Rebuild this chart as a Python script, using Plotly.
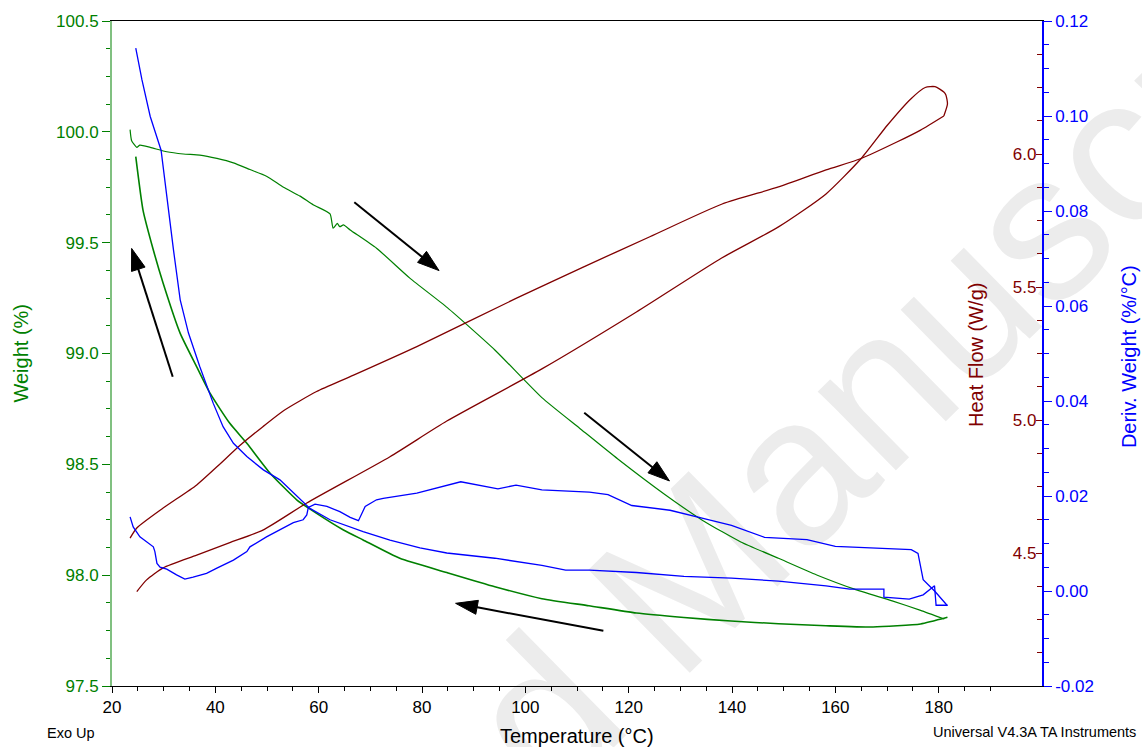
import plotly.graph_objects as go

# ---- Weight (%) : heating run ----
heat_temp_w = [23.5, 23.8, 24.8, 25.4, 27.4, 30.6, 33.8, 37.0, 40.3, 43.5, 46.7, 49.9,
               53.2, 56.4, 59.0, 62.2, 62.8, 63.6, 64.1, 64.8, 66.1, 71.2, 77.7, 84.9,
               94.1, 103.2, 110.5, 117.9, 127.0, 134.4, 141.7, 149.0, 156.4, 163.7,
               171.0, 176.5, 181.1]
heat_weight = [100.01, 99.96, 99.93, 99.94, 99.93, 99.91, 99.90, 99.895, 99.88, 99.86,
               99.83, 99.80, 99.75, 99.71, 99.67, 99.63, 99.565, 99.587, 99.572, 99.58,
               99.557, 99.475, 99.339, 99.207, 99.016, 98.801, 98.663, 98.524, 98.364,
               98.246, 98.15, 98.076, 98.001, 97.937, 97.884, 97.841, 97.802]

# ---- Weight (%) : cooling run ----
cool_temp_w = [181.7, 176.5, 167.3, 158.2, 149.0, 139.8, 130.7, 121.5, 112.3, 103.2,
               94.1, 84.8, 75.7, 68.6, 64.8, 59.6, 55.8, 50.6, 46.1, 42.8, 39.0, 36.4,
               33.2, 29.9, 28.0, 26.0, 24.6]
cool_weight = [97.81, 97.78, 97.766, 97.772, 97.781, 97.793, 97.809, 97.829, 97.862,
               97.894, 97.948, 98.012, 98.076, 98.159, 98.204, 98.279, 98.339, 98.46,
               98.595, 98.685, 98.82, 98.94, 99.091, 99.317, 99.467, 99.647, 99.888]

# ---- Heat flow (W/g) : heating run ----
heat_temp_hf = [23.5, 24.8, 29.9, 36.4, 40.3, 44.8, 49.2, 53.2, 59.6, 66.1, 79.0, 98.3,
                111.2, 124.1, 138.1, 149.0, 158.2, 165.0, 171.9, 176.5, 181.0]
heat_flow_up = [4.556, 4.594, 4.669, 4.756, 4.824, 4.905, 4.975, 5.035, 5.107, 5.163,
                5.276, 5.458, 5.575, 5.689, 5.812, 5.876, 5.940, 5.983, 6.045, 6.090,
                6.143]

# ---- Heat flow (W/g) : cooling run ----
cool_temp_hf = [181.0, 181.7, 181.4, 181.0, 179.3, 177.4, 174.6, 170.1, 165.0, 158.2,
                149.0, 138.0, 121.5, 103.2, 84.8, 73.8, 57.7, 49.2, 42.8, 36.4, 29.9,
                26.7, 24.8]
heat_flow_down = [6.143, 6.188, 6.222, 6.233, 6.253, 6.25, 6.207, 6.109, 5.983, 5.850,
                  5.726, 5.609, 5.406, 5.192, 4.996, 4.862, 4.688, 4.586, 4.539, 4.492,
                  4.444, 4.399, 4.355]

# ---- Deriv. weight (%/°C) : heating run ----
heat_temp_d = [23.5, 24.1, 25.4, 26.7, 28.0, 28.3, 28.7, 29.3, 30.6, 32.5, 34.1, 35.7,
               38.3, 40.3, 43.5, 46.1, 46.7, 49.9, 53.2, 55.1, 57.0, 57.7, 58.0, 59.3,
               61.6, 64.1, 66.1, 67.7, 69.0, 71.2, 72.5, 79.0, 87.5, 94.7, 98.2, 103.2,
               112.4, 116.0, 120.6, 128.0, 134.4, 139.9, 146.3, 154.5, 160.0, 167.4,
               174.7, 176.0, 177.0, 179.3, 181.7]
heat_deriv = [0.0156, 0.0135, 0.0114, 0.0104, 0.0093, 0.0083, 0.0058, 0.0050, 0.0046,
              0.0034, 0.0025, 0.0029, 0.0037, 0.0048, 0.0065, 0.0083, 0.0093, 0.0114,
              0.0134, 0.0144, 0.0150, 0.0160, 0.0176, 0.0183, 0.0178, 0.0167, 0.0155,
              0.0148, 0.0178, 0.0192, 0.0195, 0.0206, 0.0230, 0.0215, 0.0223, 0.0213,
              0.0208, 0.0203, 0.0180, 0.0170, 0.0153, 0.0138, 0.0113, 0.0108, 0.0094,
              0.0091, 0.0087, 0.0079, 0.0024, -0.0001, -0.0031]

# ---- Deriv. weight (%/°C) : cooling run ----
cool_temp_d = [181.7, 179.5, 179.2, 177.0, 174.3, 169.4, 169.4, 162.8, 158.2, 149.0,
               139.9, 130.7, 121.5, 112.4, 107.8, 103.2, 94.1, 84.8, 79.6, 73.8, 68.6,
               62.2, 58.3, 55.8, 52.5, 49.3, 46.1, 43.5, 41.5, 39.6, 37.0, 34.8, 33.2,
               31.9, 30.6, 29.5, 27.4, 25.8, 24.6]
cool_deriv = [-0.0030, -0.0030, 0.0011, -0.0008, -0.0017, -0.0013, 0.0004, 0.0004,
              0.0011, 0.0021, 0.0027, 0.0031, 0.0039, 0.0044, 0.0044, 0.0054, 0.0069,
              0.0080, 0.0091, 0.0107, 0.0125, 0.0150, 0.0174, 0.0199, 0.0234, 0.0255,
              0.0283, 0.0311, 0.0346, 0.0395, 0.0472, 0.0543, 0.0613, 0.0718, 0.0837,
              0.0928, 0.0999, 0.1076, 0.1143]

# Axis tick labels
weight_ticks = [97.5, 98.0, 98.5, 99.0, 99.5, 100.0, 100.5]
flow_ticks = [4.5, 5.0, 5.5, 6.0]
deriv_ticks = [-0.02, 0.00, 0.02, 0.04, 0.06, 0.08, 0.10, 0.12]
deriv_labels = ["-0.02", "0.00", "0.02", "0.04", "0.06", "0.08", "0.10", "0.12"]

# Direction arrows (temperature, weight): tail -> head
arrow_paths = [
    ((31.75, 98.895), (23.8, 99.474)),
    ((66.9, 99.682), (83.3, 99.374)),
    ((111.4, 98.733), (127.9, 98.425)),
    ((115.1, 97.749), (86.5, 97.873)),
]

GREEN = "#008000"
RED = "#800000"
BLUE = "#0000ff"
FONT = "Liberation Sans, Arial, sans-serif"

fig = go.Figure()

smooth = dict(shape="spline", smoothing=0.5)
fig.add_trace(go.Scatter(x=heat_temp_w, y=heat_weight, mode="lines",
                         line=dict(color=GREEN, width=1.2, **smooth), yaxis="y"))
fig.add_trace(go.Scatter(x=cool_temp_w, y=cool_weight, mode="lines",
                         line=dict(color=GREEN, width=1.6, **smooth), yaxis="y"))
fig.add_trace(go.Scatter(x=heat_temp_hf, y=heat_flow_up, mode="lines",
                         line=dict(color=RED, width=1.3, shape="spline", smoothing=0.6),
                         yaxis="y2"))
fig.add_trace(go.Scatter(x=cool_temp_hf, y=heat_flow_down, mode="lines",
                         line=dict(color=RED, width=1.3, shape="spline", smoothing=0.6),
                         yaxis="y2"))
fig.add_trace(go.Scatter(x=heat_temp_d, y=heat_deriv, mode="lines",
                         line=dict(color=BLUE, width=1.3), yaxis="y3"))
fig.add_trace(go.Scatter(x=cool_temp_d, y=cool_deriv, mode="lines",
                         line=dict(color=BLUE, width=1.3), yaxis="y3"))

for (x0, y0), (x1, y1) in arrow_paths:
    fig.add_trace(go.Scatter(
        x=[x0, x1], y=[y0, y1], mode="lines+markers", yaxis="y",
        line=dict(color="black", width=2),
        marker=dict(symbol="arrow", size=[0, 23], angleref="previous",
                    color="black", opacity=1, line=dict(width=1, color="black")),
        hoverinfo="skip"))

tickfont = dict(family=FONT, size=17)

fig.update_layout(
    width=1142, height=747,
    margin=dict(l=112, r=100, t=21, b=61),
    paper_bgcolor="white", plot_bgcolor="white",
    showlegend=False,
    font=dict(family=FONT),
    xaxis=dict(
        range=[20, 200], dtick=20, tick0=0, showgrid=False, zeroline=False,
        showline=True, linecolor="black", linewidth=1, mirror=True,
        ticks="outside", ticklen=6, tickcolor="black",
        tickfont=dict(tickfont, color="black"),
        minor=dict(dtick=5, ticks="outside", ticklen=4, tickcolor="black"),
    ),
    yaxis=dict(
        range=[97.5, 100.5], tickvals=weight_ticks, tickformat=".1f",
        showgrid=False, zeroline=False,
        showline=True, linecolor="#80c080", linewidth=2,
        ticks="outside", ticklen=8, tickcolor=GREEN,
        tickfont=dict(tickfont, color=GREEN),
        minor=dict(tickmode="linear", tick0=97.5, dtick=0.125, ticks="outside",
                   ticklen=4, tickcolor=GREEN),
    ),
    yaxis2=dict(
        range=[4.0, 6.5], overlaying="y", side="right", anchor="x",
        tickvals=flow_ticks, tickformat=".1f",
        showgrid=False, zeroline=False, showline=False,
        ticks="inside", ticklen=6, tickcolor=RED, ticklabelposition="inside",
        tickfont=dict(tickfont, color=RED),
        minor=dict(tickmode="linear", tick0=4.0, dtick=0.125, ticks="inside",
                   ticklen=5, tickcolor=RED),
    ),
    yaxis3=dict(
        range=[-0.02, 0.12], overlaying="y", side="right", anchor="x",
        tickvals=deriv_ticks, ticktext=deriv_labels,
        showgrid=False, zeroline=False,
        showline=True, linecolor=BLUE, linewidth=1.5,
        ticks="outside", ticklen=8, tickcolor=BLUE,
        tickfont=dict(tickfont, color=BLUE),
        minor=dict(tickmode="linear", tick0=-0.02, dtick=0.005, ticks="outside",
                   ticklen=5, tickcolor=BLUE),
    ),
)

# Background watermark, drawn beneath the traces
fig.add_shape(
    type="rect", xref="paper", yref="paper",
    x0=0.52, x1=0.628, y0=0.10, y1=0.20, layer="below",
    line=dict(width=0), fillcolor="rgba(0,0,0,0)",
    label=dict(text="Accepted Manuscript", textangle=-44.5,
               textposition="middle center",
               font=dict(family=FONT, size=210, color="#ececec")),
)

title_font = dict(family=FONT, size=20)
fig.add_annotation(text="Temperature (°C)", xref="paper", yref="paper",
                   x=0.5, y=-0.0752, showarrow=False,
                   font=dict(title_font, color="black"),
                   xanchor="center", yanchor="middle")
fig.add_annotation(text="Weight (%)", xref="paper", yref="paper",
                   x=-0.0989, y=0.50, showarrow=False, textangle=-90,
                   font=dict(title_font, color=GREEN),
                   xanchor="center", yanchor="middle")
fig.add_annotation(text="Heat Flow (W/g)", xref="paper", yref="paper",
                   x=0.929, y=0.4977, showarrow=False, textangle=-90,
                   font=dict(title_font, color=RED),
                   xanchor="center", yanchor="middle")
fig.add_annotation(text="Deriv. Weight (%/°C)", xref="paper", yref="paper",
                   x=1.0935, y=0.496, showarrow=False, textangle=-90,
                   font=dict(title_font, color=BLUE),
                   xanchor="center", yanchor="middle")
fig.add_annotation(text="Exo Up", xref="paper", yref="paper",
                   x=-0.072, y=-0.0707, showarrow=False,
                   font=dict(family=FONT, size=14.5, color="black"),
                   xanchor="left", yanchor="middle")
fig.add_annotation(text="Universal V4.3A TA Instruments", xref="paper", yref="paper",
                   x=1.1032, y=-0.0692, showarrow=False,
                   font=dict(family=FONT, size=14.5, color="black"),
                   xanchor="right", yanchor="middle")

fig.write_html("out.html")
